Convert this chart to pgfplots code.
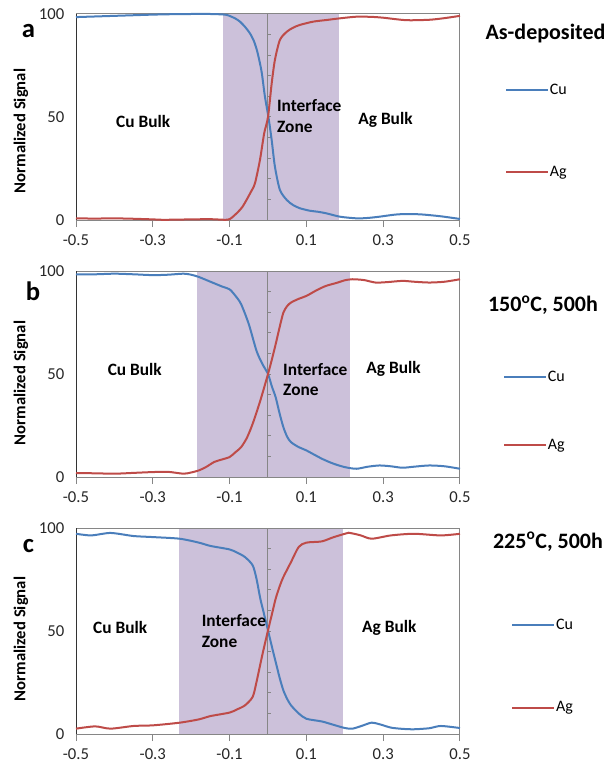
\documentclass[border=0pt]{standalone}
\usepackage{pgfplots}
\pgfplotsset{compat=1.18}
\usepackage{fontspec}
\setmainfont{Carlito}
\definecolor{cublue}{HTML}{4A7EBB}
\definecolor{agred}{HTML}{BE4B48}
\definecolor{shade}{HTML}{CCC1DA}
\definecolor{boxgray}{HTML}{868686}
\tikzset{lab/.style={font=\bfseries\fontsize{13}{15.5}\selectfont, text=black}}
\pgfplotsset{
  panel/.style={
    scale only axis, width=288pt, height=154.5pt,
    xmin=-0.5, xmax=0.5, ymin=0, ymax=100,
    xtick={-0.5,-0.3,-0.1,0.1,0.3,0.5},
    xticklabels={-0.5,-0.3,-0.1,0.1,0.3,0.5},
    ytick={0,50,100}, yticklabels={0,50,100},
    xtick pos=left, ytick pos=left,
    tick align=outside,
    major tick length=5.25pt,
    xtick style={draw=boxgray, line width=0.75pt},
    ytick style={draw=none},
    axis line style={draw=none},
    tick label style={font=\fontsize{12.5}{14}\selectfont, text=black!85},
    xticklabel style={yshift=-2pt},
    clip=false,
    legend cell align=left,
    legend style={draw=none, fill=none, anchor=west, font=\fontsize{12}{14}\selectfont,
      inner sep=0pt, column sep=0pt,
      nodes={inner xsep=1pt, inner ysep=1.5pt, text height=9pt, text depth=3pt}},
    legend image code/.code={\draw[#1, line width=1.5pt] (0pt,0pt) -- (31pt,0pt);},
  },
  boxtop/.style={forget plot, draw=boxgray, line width=0.75pt},
  boxleft/.style={forget plot, draw=black!80, line width=0.75pt},
  cline/.style={forget plot, draw=boxgray, line width=0.75pt},
  cticks/.style={forget plot, xcomb, draw=boxgray, line width=0.75pt},
  cu/.style={cublue, line width=1.5pt, smooth, tension=0.45},
  ag/.style={agred, line width=1.5pt, smooth, tension=0.45},
}
\begin{document}
\begin{tikzpicture}
\path[use as bounding box] (0,0) rectangle (456pt,-577.5pt);

% ---------------- panel a ----------------
\begin{axis}[panel, at={(57pt,-165pt)}, anchor=south west,
  legend style={at={(1.117,0.432)}, row sep=46.5pt}]
\addplot[forget plot, fill=shade, draw=none] coordinates {(-0.116,100) (0.185,100)} \closedcycle;
\addplot[boxtop] coordinates {(-0.5,100) (0.5,100) (0.5,0) (-0.5,0)};
\addplot[boxleft] coordinates {(-0.5,0) (-0.5,100)};
\addplot[cline] coordinates {(0,0) (0,100)};
\addplot[cticks] coordinates {(0.008,10) (0.008,20) (0.008,30) (0.008,40) (0.008,50) (0.008,60) (0.008,70) (0.008,80) (0.008,90)};
\addplot[cu] coordinates {(-0.5,98.5) (-0.45,98.8) (-0.4,99.1) (-0.35,99.4) (-0.3,99.7) (-0.25,99.9) (-0.2,100) (-0.15,100) (-0.112,99.7) (-0.099,99) (-0.085,97.8) (-0.073,96.3) (-0.06,93.8) (-0.047,90.6) (-0.037,87) (-0.029,82.5) (-0.022,77) (-0.016,71.2) (-0.008,59.9) (0.001,50.1) (0.0096,38.8) (0.018,25.9) (0.031,14.6) (0.049,9.7) (0.065,7.3) (0.083,5.7) (0.109,4.5) (0.13,4) (0.153,3.2) (0.1875,1.6) (0.231,0.8) (0.26,1) (0.29,1.6) (0.33,2.6) (0.36,2.9) (0.4,2.7) (0.45,1.8) (0.5,0.5)};
\addlegendentry{Cu}
\addplot[ag] coordinates {(-0.5,0.8) (-0.45,0.7) (-0.4,0.8) (-0.35,0.6) (-0.3,0.3) (-0.27,0.1) (-0.2,0.3) (-0.15,0.4) (-0.112,0.1) (-0.099,0.5) (-0.082,3.2) (-0.068,6) (-0.056,9.7) (-0.045,13.5) (-0.034,17.8) (-0.021,29.1) (-0.01,42) (0,50) (0.0096,66.3) (0.018,77.7) (0.031,87.4) (0.049,91.4) (0.065,93.3) (0.083,94.7) (0.118,96.3) (0.153,97.1) (0.1875,97.9) (0.231,98.7) (0.27,98.6) (0.3,98.2) (0.36,97) (0.42,97.2) (0.46,98) (0.5,99.1)};
\addlegendentry{Ag}
\node[lab] at (axis cs:-0.325,48) {Cu Bulk};
\node[lab, align=left, anchor=west, inner sep=0pt] at (axis cs:0.023,50.6) {Interface\\Zone};
\node[lab] at (axis cs:0.306,48.8) {Ag Bulk};
\end{axis}

% ---------------- panel b ----------------
\begin{axis}[panel, at={(57pt,-357.75pt)}, anchor=south west,
  legend style={at={(1.112,0.318)}, row sep=36pt}]
\addplot[forget plot, fill=shade, draw=none] coordinates {(-0.185,100) (0.213,100)} \closedcycle;
\addplot[boxtop] coordinates {(-0.5,100) (0.5,100) (0.5,0) (-0.5,0)};
\addplot[boxleft] coordinates {(-0.5,0) (-0.5,100)};
\addplot[cline] coordinates {(0,0) (0,100)};
\addplot[cticks] coordinates {(0.008,10) (0.008,20) (0.008,30) (0.008,40) (0.008,50) (0.008,60) (0.008,70) (0.008,80) (0.008,90)};
\addplot[cu] coordinates {(-0.5,98.4) (-0.45,98.4) (-0.4,98.7) (-0.35,98.4) (-0.3,98) (-0.26,98.2) (-0.22,98.7) (-0.2,98.2) (-0.18,97.1) (-0.15,94.8) (-0.12,92.5) (-0.1,91.1) (-0.085,88) (-0.07,83.9) (-0.05,74.2) (-0.03,61.3) (-0.015,55) (0,50) (0.01,44) (0.02,38.7) (0.03,31) (0.04,24.2) (0.05,19.5) (0.06,16.9) (0.08,14.5) (0.1,12.9) (0.14,8.9) (0.17,6.5) (0.2,4.8) (0.23,4) (0.26,5) (0.29,5.6) (0.32,5.2) (0.35,4.5) (0.38,5) (0.42,5.6) (0.46,5.2) (0.5,4)};
\addlegendentry{Cu}
\addplot[ag] coordinates {(-0.5,1.9) (-0.45,1.8) (-0.4,1.6) (-0.35,2) (-0.3,2.4) (-0.26,2.5) (-0.22,1.6) (-0.2,2.2) (-0.18,3.2) (-0.16,5) (-0.14,7.3) (-0.12,8.5) (-0.1,9.7) (-0.085,12) (-0.07,14.5) (-0.055,19) (-0.04,25.8) (-0.02,37.1) (0,50) (0.01,57) (0.02,64.5) (0.03,72.5) (0.04,79.8) (0.05,83) (0.06,84.7) (0.08,86.5) (0.1,87.9) (0.125,90.5) (0.15,92.7) (0.18,94.3) (0.2,95.5) (0.22,96) (0.25,95.6) (0.28,94.4) (0.31,94.6) (0.35,95.2) (0.38,94.8) (0.42,94.4) (0.46,94.8) (0.5,96)};
\addlegendentry{Ag}
\node[lab] at (axis cs:-0.347,52.4) {Cu Bulk};
\node[lab, align=left, anchor=west, inner sep=0pt] at (axis cs:0.039,47.35) {Interface\\Zone};
\node[lab] at (axis cs:0.327,52.4) {Ag Bulk};
\end{axis}

% ---------------- panel c ----------------
\begin{axis}[panel, at={(57pt,-550.5pt)}, anchor=south west,
  legend style={at={(1.133,0.328)}, row sep=47pt}]
\addplot[forget plot, fill=shade, draw=none] coordinates {(-0.232,100) (0.195,100)} \closedcycle;
\addplot[boxtop] coordinates {(-0.5,100) (0.5,100) (0.5,0) (-0.5,0)};
\addplot[boxleft] coordinates {(-0.5,0) (-0.5,100)};
\addplot[cline] coordinates {(0,0) (0,100)};
\addplot[cticks] coordinates {(0.008,10) (0.008,20) (0.008,30) (0.008,40) (0.008,50) (0.008,60) (0.008,70) (0.008,80) (0.008,90)};
\addplot[cu] coordinates {(-0.5,97.2) (-0.46,96.4) (-0.41,97.6) (-0.35,96.1) (-0.3,95.6) (-0.23,94.8) (-0.18,92.9) (-0.15,91.3) (-0.1,89.6) (-0.08,88) (-0.06,85.9) (-0.04,81.9) (-0.03,75.4) (-0.02,65.7) (-0.01,58) (0,50.3) (0.01,42.5) (0.02,35) (0.03,27.5) (0.04,21.2) (0.05,17) (0.06,13.9) (0.08,10) (0.1,7.4) (0.14,6.1) (0.17,4.5) (0.2,2.9) (0.22,2.6) (0.245,4) (0.27,5.5) (0.295,4.5) (0.32,3.1) (0.35,2.5) (0.38,2.3) (0.42,2.8) (0.45,3.9) (0.5,2.9)};
\addlegendentry{Cu}
\addplot[ag] coordinates {(-0.5,2.6) (-0.45,3.7) (-0.41,2.6) (-0.35,3.9) (-0.3,4.2) (-0.23,5.5) (-0.18,7.1) (-0.15,8.7) (-0.1,10.4) (-0.08,12) (-0.06,13.9) (-0.04,18) (-0.03,25.2) (-0.015,38.2) (0,50.3) (0.01,58) (0.02,65.7) (0.03,71.5) (0.04,76.2) (0.06,83.5) (0.08,90.8) (0.1,92.9) (0.14,93.5) (0.17,95.5) (0.2,97.2) (0.21,97.7) (0.24,96.5) (0.27,94.8) (0.32,96.4) (0.38,97.2) (0.45,96.4) (0.5,97.2)};
\addlegendentry{Ag}
\node[lab] at (axis cs:-0.385,51.5) {Cu Bulk};
\node[lab, align=left, anchor=west, inner sep=0pt] at (axis cs:-0.173,50.1) {Interface\\Zone};
\node[lab] at (axis cs:0.316,51.5) {Ag Bulk};
\end{axis}

% ---------------- outer texts (px coordinates) ----------------
\begin{scope}[x=0.75pt, y=-0.75pt]
\node[font=\bfseries\fontsize{20}{22}\selectfont, anchor=base] at (28.5,38) {a};
\node[font=\bfseries\fontsize{20}{22}\selectfont, anchor=base] at (33,300) {b};
\node[font=\bfseries\fontsize{20}{22}\selectfont, anchor=base] at (28.5,552) {c};
\node[font=\bfseries\fontsize{16.5}{18}\selectfont, anchor=base] at (545.5,40) {As-deposited};
\node[font=\bfseries\fontsize{16.5}{18}\selectfont, anchor=base] at (543,311.5) {150\textsuperscript{o}C, 500h};
\node[font=\bfseries\fontsize{16.5}{18}\selectfont, anchor=base] at (548,548) {225\textsuperscript{o}C, 500h};
\node[font=\bfseries\fontsize{12.5}{14}\selectfont, rotate=90] at (21,131) {Normalized Signal};
\node[font=\bfseries\fontsize{12.5}{14}\selectfont, rotate=90] at (21,383) {Normalized Signal};
\node[font=\bfseries\fontsize{12.5}{14}\selectfont, rotate=90] at (21,639) {Normalized Signal};
\end{scope}
\end{tikzpicture}
\end{document}
